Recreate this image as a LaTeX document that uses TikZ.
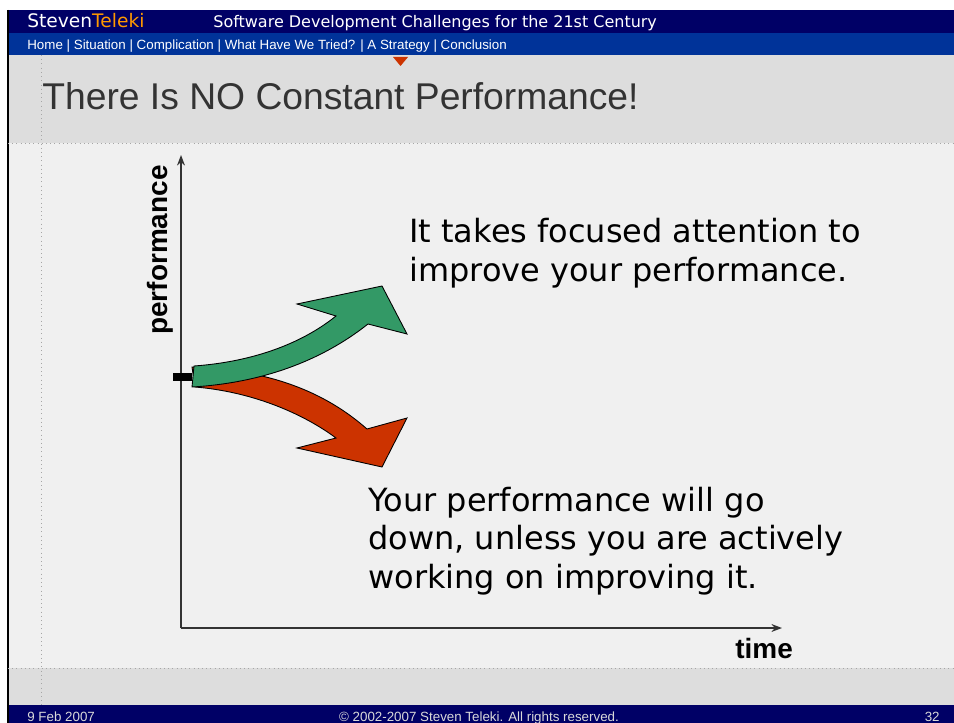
\documentclass[tikz,border=0pt]{standalone}
\usepackage{fontspec}
\setmainfont{DejaVu Sans}
\newfontfamily\arialfont{Liberation Sans}
\usepackage{tikz}
\usetikzlibrary{positioning}
\usetikzlibrary{arrows.meta}
\definecolor{navy}{HTML}{000066}
\definecolor{navblue}{HTML}{003399}
\definecolor{titlegray}{HTML}{DDDDDD}
\definecolor{panelgray}{HTML}{F0F0F0}
\definecolor{upgreen}{HTML}{339966}
\definecolor{downred}{HTML}{CC3300}
\definecolor{teleki}{HTML}{FF9900}
\tikzset{body text/.style={anchor=base west,inner sep=0pt,align=left,font=\fontsize{18.2}{21.9}\selectfont},
	axis label/.style={inner sep=0pt,font=\arialfont\bfseries\fontsize{15.9}{18}\selectfont},
	bar text/.style={anchor=base west,inner sep=0pt,text=white},
	foot text/.style={anchor=base west,inner sep=0pt,text=white!85!black,font=\arialfont\fontsize{7.6}{9}\selectfont},
	block arrow/.style={draw=black,line width=0.5pt,line join=miter},
	axis/.style={draw=black!80,line width=0.9pt,-{Stealth[length=6pt,width=4.5pt]}},}

\begin{document}
\begin{tikzpicture}[x=0.02cm, y=-0.02cm]
	\useasboundingbox (0,0) rectangle (954,723);
	\fill[white] (0,0) rectangle (954,723);
	\fill[titlegray] (8,55) rectangle (954,143);
	\fill[panelgray] (8,143) rectangle (954,668);
	\fill[titlegray] (8,668) rectangle (954,705);
	\fill[navy] (8,10) rectangle (954,33);
	\fill[navblue] (8,33) rectangle (954,55);
	\fill[navy] (8,705) rectangle (954,723);
	\draw[black,line width=1.2pt] (8,10) -- (8,723);
	\draw[black!35,dotted,line width=0.4pt] (41,55) -- (41,705);
	\draw[black!35,dotted,line width=0.4pt] (8,143) -- (954,143);
	\draw[black!35,dotted,line width=0.4pt] (8,668) -- (954,668);
	\fill[downred] (393,57) -- (408,57) -- (400.5,66) -- cycle;

	\node[bar text,font=\fontsize{10.6}{12}\selectfont] (brand) at (27,28) {Steven\textcolor{teleki}{Teleki}};
	\node[bar text,font=\fontsize{9.1}{11}\selectfont] (course) at (213,28) {Software Development Challenges for the 21st Century};
	\node[bar text,font=\arialfont\fontsize{7.6}{9}\selectfont] (menu) at (27,50) {Home | Situation | Complication | What Have We Tried? | A Strategy | Conclusion};
	\node[anchor=base west,inner sep=0pt,text=black!80,font=\arialfont\fontsize{21.2}{24}\selectfont] (title) at (42,110) {There Is NO Constant Performance!};

	\coordinate (origin) at (181,628);
	\coordinate (ytop) at (181,155);
	\coordinate (xend) at (782,628);
	\draw[axis] (origin) -- (ytop);
	\draw[axis] (origin) -- (xend);
	\node[axis label,rotate=90] (perf) at (160,250) {performance};
	\node[axis label,anchor=base west] (time) at (735,658) {time};
	\fill[black] (173,373) rectangle (192,381);

	\draw[block arrow,fill=downred] (192,367) .. controls (270,370) and (325,392) .. (367,429)
		-- (407,418) -- (382,467) -- (297,448) -- (336,438)
		.. controls (305,415) and (255,392) .. (195,387) -- cycle;
	\draw[block arrow,fill=upgreen] (192,387) .. controls (260,383) and (320,362) .. (368,324)
		-- (407,334) -- (382,286) -- (297,304) -- (336,316)
		.. controls (300,345) and (250,362) .. (194,366) -- cycle;

	\node[body text] (up text) at (409,281) {It takes focused attention to\\improve your performance.};
	\node[body text] (down text) at (368,588) {Your performance will go\\down, unless you are actively\\working on improving it.};

	\node[foot text] (date) at (27,721) {9 Feb 2007};
	\node[foot text,anchor=base] (rights) at (479,721) {\textcopyright{} 2002-2007 Steven Teleki. All rights reserved.};
	\node[foot text,anchor=base east] (page) at (940,721) {32};
\end{tikzpicture}
\end{document}
